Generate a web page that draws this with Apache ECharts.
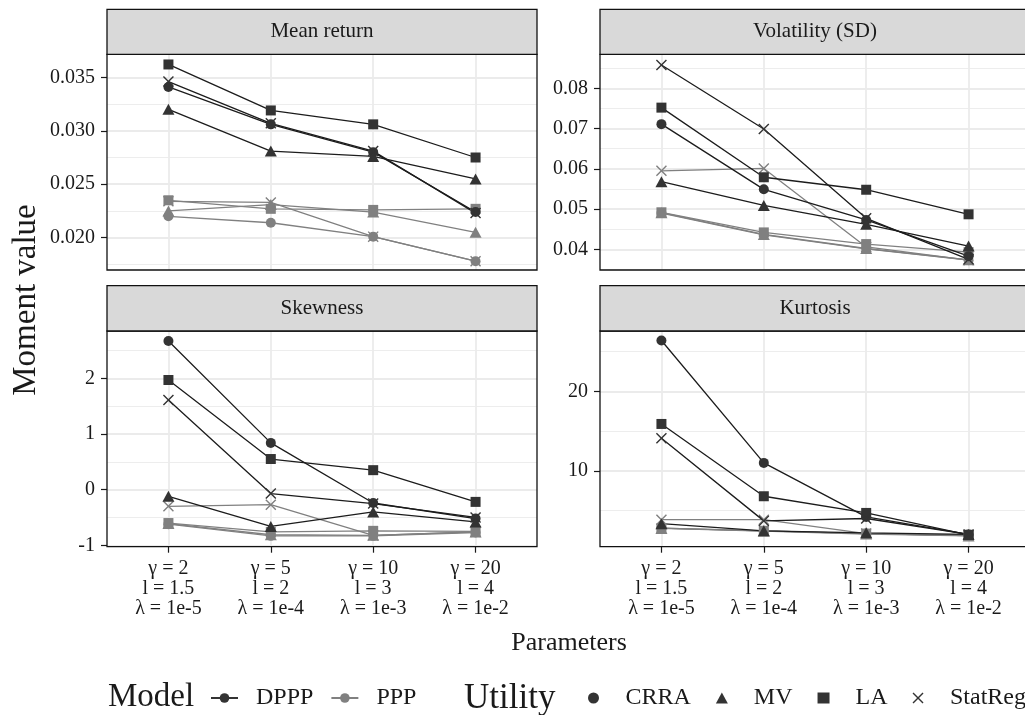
<!DOCTYPE html>
<html><head><meta charset="utf-8">
<script src="https://cdn.jsdelivr.net/npm/echarts@6/dist/echarts.min.js"></script>
<style>html,body{margin:0;padding:0;background:#fff}#c{width:1025px;height:715px}</style>
</head><body><div id="c"></div>
<script>
// ---------------- DATA ----------------
const categories = ['γ = 2\nl = 1.5\nλ = 1e-5', 'γ = 5\nl = 2\nλ = 1e-4', 'γ = 10\nl = 3\nλ = 1e-3', 'γ = 20\nl = 4\nλ = 1e-2'];
const panelTitles = ['Mean return', 'Volatility (SD)', 'Skewness', 'Kurtosis'];
const models = ['DPPP', 'PPP'];
const utilities = ['CRRA', 'MV', 'LA', 'StatReg'];

// Mean return
const mean_DPPP_CRRA    = [0.0341, 0.0306, 0.0280, 0.0224];
const mean_DPPP_MV      = [0.0320, 0.0281, 0.0276, 0.0255];
const mean_DPPP_LA      = [0.0362, 0.0319, 0.0306, 0.0275];
const mean_DPPP_StatReg = [0.0346, 0.0307, 0.0281, 0.0223];
const mean_PPP_CRRA     = [0.0220, 0.0214, 0.0201, 0.0178];
const mean_PPP_MV       = [0.0225, 0.0231, 0.0224, 0.0205];
const mean_PPP_LA       = [0.0235, 0.0227, 0.0226, 0.0227];
const mean_PPP_StatReg  = [0.0234, 0.0233, 0.0201, 0.0178];
// Volatility (SD)
const vol_DPPP_CRRA     = [0.0711, 0.0549, 0.0473, 0.0383];
const vol_DPPP_MV       = [0.0568, 0.0509, 0.0462, 0.0408];
const vol_DPPP_LA       = [0.0752, 0.0579, 0.0548, 0.0487];
const vol_DPPP_StatReg  = [0.0858, 0.0699, 0.0477, 0.0375];
const vol_PPP_CRRA      = [0.0490, 0.0436, 0.0401, 0.0373];
const vol_PPP_MV        = [0.0491, 0.0437, 0.0402, 0.0374];
const vol_PPP_LA        = [0.0492, 0.0442, 0.0413, 0.0393];
const vol_PPP_StatReg   = [0.0595, 0.0601, 0.0406, 0.0373];
// Skewness
const skew_DPPP_CRRA    = [2.67, 0.84, -0.24, -0.52];
const skew_DPPP_MV      = [-0.12, -0.66, -0.40, -0.58];
const skew_DPPP_LA      = [1.97, 0.55, 0.35, -0.22];
const skew_DPPP_StatReg = [1.61, -0.07, -0.25, -0.50];
const skew_PPP_CRRA     = [-0.62, -0.83, -0.83, -0.77];
const skew_PPP_MV       = [-0.61, -0.81, -0.82, -0.76];
const skew_PPP_LA       = [-0.60, -0.76, -0.74, -0.75];
const skew_PPP_StatReg  = [-0.30, -0.27, -0.82, -0.76];
// Kurtosis
const kurt_DPPP_CRRA    = [26.4, 11.0, 4.2, 2.0];
const kurt_DPPP_MV      = [3.35, 2.45, 2.2, 2.0];
const kurt_DPPP_LA      = [15.9, 6.8, 4.7, 1.95];
const kurt_DPPP_StatReg = [14.1, 3.7, 4.0, 2.0];
const kurt_PPP_CRRA     = [2.8, 2.45, 2.1, 1.85];
const kurt_PPP_MV       = [2.75, 2.4, 2.05, 1.8];
const kurt_PPP_LA       = [2.8, 2.45, 2.1, 1.9];
const kurt_PPP_StatReg  = [3.85, 3.85, 2.1, 1.85];

// Axis ranges and tick labels per panel
const yRanges = [[0.01698, 0.03715], [0.03486, 0.08845], [-1.025, 2.85], [0.45, 27.6]];
const yMajorTicks = [[0.020, 0.025, 0.030, 0.035], [0.04, 0.05, 0.06, 0.07, 0.08], [-1, 0, 1, 2], [10, 20]];
const yMinorTicks = [[0.0175, 0.0225, 0.0275, 0.0325], [0.035, 0.045, 0.055, 0.065, 0.075, 0.085], [-0.5, 0.5, 1.5, 2.5], [5, 15, 25]];
const yDecimals = [3, 2, 0, 0];

const panelData = [
  { DPPP: { CRRA: mean_DPPP_CRRA, MV: mean_DPPP_MV, LA: mean_DPPP_LA, StatReg: mean_DPPP_StatReg },
    PPP:  { CRRA: mean_PPP_CRRA,  MV: mean_PPP_MV,  LA: mean_PPP_LA,  StatReg: mean_PPP_StatReg } },
  { DPPP: { CRRA: vol_DPPP_CRRA, MV: vol_DPPP_MV, LA: vol_DPPP_LA, StatReg: vol_DPPP_StatReg },
    PPP:  { CRRA: vol_PPP_CRRA,  MV: vol_PPP_MV,  LA: vol_PPP_LA,  StatReg: vol_PPP_StatReg } },
  { DPPP: { CRRA: skew_DPPP_CRRA, MV: skew_DPPP_MV, LA: skew_DPPP_LA, StatReg: skew_DPPP_StatReg },
    PPP:  { CRRA: skew_PPP_CRRA,  MV: skew_PPP_MV,  LA: skew_PPP_LA,  StatReg: skew_PPP_StatReg } },
  { DPPP: { CRRA: kurt_DPPP_CRRA, MV: kurt_DPPP_MV, LA: kurt_DPPP_LA, StatReg: kurt_DPPP_StatReg },
    PPP:  { CRRA: kurt_PPP_CRRA,  MV: kurt_PPP_MV,  LA: kurt_PPP_LA,  StatReg: kurt_PPP_StatReg } }
];

// ---------------- STYLE / LAYOUT ----------------
const FONT = '"Liberation Serif", "Times New Roman", serif';
const TXT = '#1a1a1a';
const GRIDC = '#EBEBEB';
const PT_COL = { DPPP: '#333333', PPP: '#808080' };
const LN_COL = { DPPP: '#1c1c1c', PPP: '#808080' };
const XPATH = 'path://M0,0.9L0.9,0L5,4.1L9.1,0L10,0.9L5.9,5L10,9.1L9.1,10L5,5.9L0.9,10L0,9.1L4.1,5Z';
const SYMBOL = { CRRA: 'circle', MV: 'triangle', LA: 'rect', StatReg: XPATH };
const SYMSIZE = { CRRA: 10, MV: [12, 11], LA: 10, StatReg: 11 };

const PW = 430, PH = 215.7;
const pLeft = [107, 600, 107, 600];
const pTop = [54.3, 54.3, 331, 331];
const sTop = [9.3, 9.3, 285.7, 285.7];

const grids = [], xAxes = [], yAxes = [], series = [], graphics = [];

for (let p = 0; p < 4; p++) {
  const bottomRow = p >= 2;
  grids.push({ left: pLeft[p], top: pTop[p], width: PW, height: PH, show: false, containLabel: false, outerBoundsMode: 'none' });
  xAxes.push({
    gridIndex: p, type: 'value', min: 0.4, max: 4.6, position: 'bottom',
    axisLine: { show: false, onZero: false },
    axisTick: { show: bottomRow, customValues: [1, 2, 3, 4], length: 6, lineStyle: { color: '#1a1a1a', width: 1.2 } },
    axisLabel: { show: bottomRow, customValues: [1, 2, 3, 4], margin: 12, fontFamily: FONT, fontSize: 20, lineHeight: 20, color: TXT,
      formatter: v => categories[Math.round(v) - 1] || '' },
    splitLine: { show: true, lineStyle: { color: GRIDC, width: 1.8 } }
  });
  const dec = yDecimals[p];
  yAxes.push({
    gridIndex: p, type: 'value', min: yRanges[p][0], max: yRanges[p][1], position: 'left',
    axisLine: { show: false, onZero: false },
    axisTick: { show: true, customValues: yMajorTicks[p], length: 6, lineStyle: { color: '#1a1a1a', width: 1.2 } },
    axisLabel: { show: true, customValues: yMajorTicks[p], margin: 12, fontFamily: FONT, fontSize: 20, color: TXT,
      formatter: v => v.toFixed(dec) },
    splitLine: { show: true, lineStyle: { color: GRIDC, width: 1.8 } }
  });
  yAxes.push({
    gridIndex: p, type: 'value', min: yRanges[p][0], max: yRanges[p][1], position: 'right',
    axisLine: { show: false, onZero: false },
    axisTick: { show: false, customValues: yMinorTicks[p] },
    axisLabel: { show: false, customValues: yMinorTicks[p] },
    splitLine: { show: true, lineStyle: { color: GRIDC, width: 0.9 } }
  });

  // lines first (PPP then DPPP), points after
  ['PPP', 'DPPP'].forEach(m => {
    utilities.forEach(u => {
      series.push({
        type: 'line', name: m + ' ' + u, xAxisIndex: p, yAxisIndex: p * 2,
        data: panelData[p][m][u].map((v, i) => [i + 1, v]),
        symbol: 'none', showSymbol: false, silent: true, z: 3,
        lineStyle: { color: LN_COL[m], width: 1.3 }
      });
    });
  });
  ['PPP', 'DPPP'].forEach(m => {
    utilities.forEach(u => {
      series.push({
        type: 'scatter', name: m + ' ' + u + ' pts', xAxisIndex: p, yAxisIndex: p * 2,
        data: panelData[p][m][u].map((v, i) => [i + 1, v]),
        symbol: SYMBOL[u], symbolSize: SYMSIZE[u], silent: true, z: 4,
        itemStyle: { color: PT_COL[m], opacity: 1 }
      });
    });
  });

  // panel border
  graphics.push({ type: 'rect', silent: true, z: 100,
    shape: { x: pLeft[p], y: pTop[p], width: PW, height: PH },
    style: { fill: 'none', stroke: '#111', lineWidth: 1.3 } });
  // strip
  graphics.push({ type: 'rect', silent: true, z: 100,
    shape: { x: pLeft[p], y: sTop[p], width: PW, height: pTop[p] - sTop[p] },
    style: { fill: '#D9D9D9', stroke: '#111', lineWidth: 1.3 } });
  graphics.push({ type: 'text', silent: true, z: 101,
    x: pLeft[p] + PW / 2, y: (sTop[p] + pTop[p]) / 2,
    style: { text: panelTitles[p], font: '21px ' + FONT, fill: TXT, align: 'center', verticalAlign: 'middle',
      textAlign: 'center', textVerticalAlign: 'middle' } });
}

// axis titles
graphics.push({ type: 'text', silent: true, x: 26, y: 300, rotation: Math.PI / 2,
  style: { text: 'Moment value', font: '33px ' + FONT, fill: TXT, align: 'center', verticalAlign: 'middle',
    textAlign: 'center', textVerticalAlign: 'middle' } });
graphics.push({ type: 'text', silent: true, x: 569, y: 643,
  style: { text: 'Parameters', font: '26px ' + FONT, fill: TXT, align: 'center', verticalAlign: 'middle',
    textAlign: 'center', textVerticalAlign: 'middle' } });

// legend dummy series
models.forEach(m => {
  series.push({ type: 'line', name: m, xAxisIndex: 0, yAxisIndex: 0, data: [],
    symbol: 'circle', symbolSize: 10, itemStyle: { color: PT_COL[m] },
    lineStyle: { color: PT_COL[m], width: 2.5 } });
});
utilities.forEach(u => {
  series.push({ type: 'scatter', name: u, xAxisIndex: 0, yAxisIndex: 0, data: [],
    symbol: SYMBOL[u], itemStyle: { color: '#000' } });
});

const option = {
  animation: false,
  backgroundColor: '#ffffff',
  grid: grids, xAxis: xAxes, yAxis: yAxes, series: series,
  title: [
    { text: 'Model', left: 108, top: 681, padding: 0, textStyle: { fontFamily: FONT, fontSize: 33, fontWeight: 'normal', color: TXT } },
    { text: 'Utility', left: 464, top: 681, padding: 0, textStyle: { fontFamily: FONT, fontSize: 35, fontWeight: 'normal', color: TXT } }
  ],
  legend: [
    { data: models, left: 210, top: 686, width: 300, padding: 0, orient: 'horizontal', itemWidth: 27, itemHeight: 12, itemGap: 17,
      selectedMode: false, textStyle: { fontFamily: FONT, fontSize: 24, color: TXT, padding: [0, 0, 0, 13] } },
    { data: utilities, left: 588, top: 686, width: 700, padding: 0, orient: 'horizontal', itemWidth: 12, itemHeight: 11, itemGap: 25,
      selectedMode: false, textStyle: { fontFamily: FONT, fontSize: 24, color: TXT, padding: [0, 0, 0, 21] } }
  ],
  graphic: graphics
};

const chart = echarts.init(document.getElementById('c'), null, { renderer: 'canvas' });
chart.setOption(option);
</script>
</body></html>
